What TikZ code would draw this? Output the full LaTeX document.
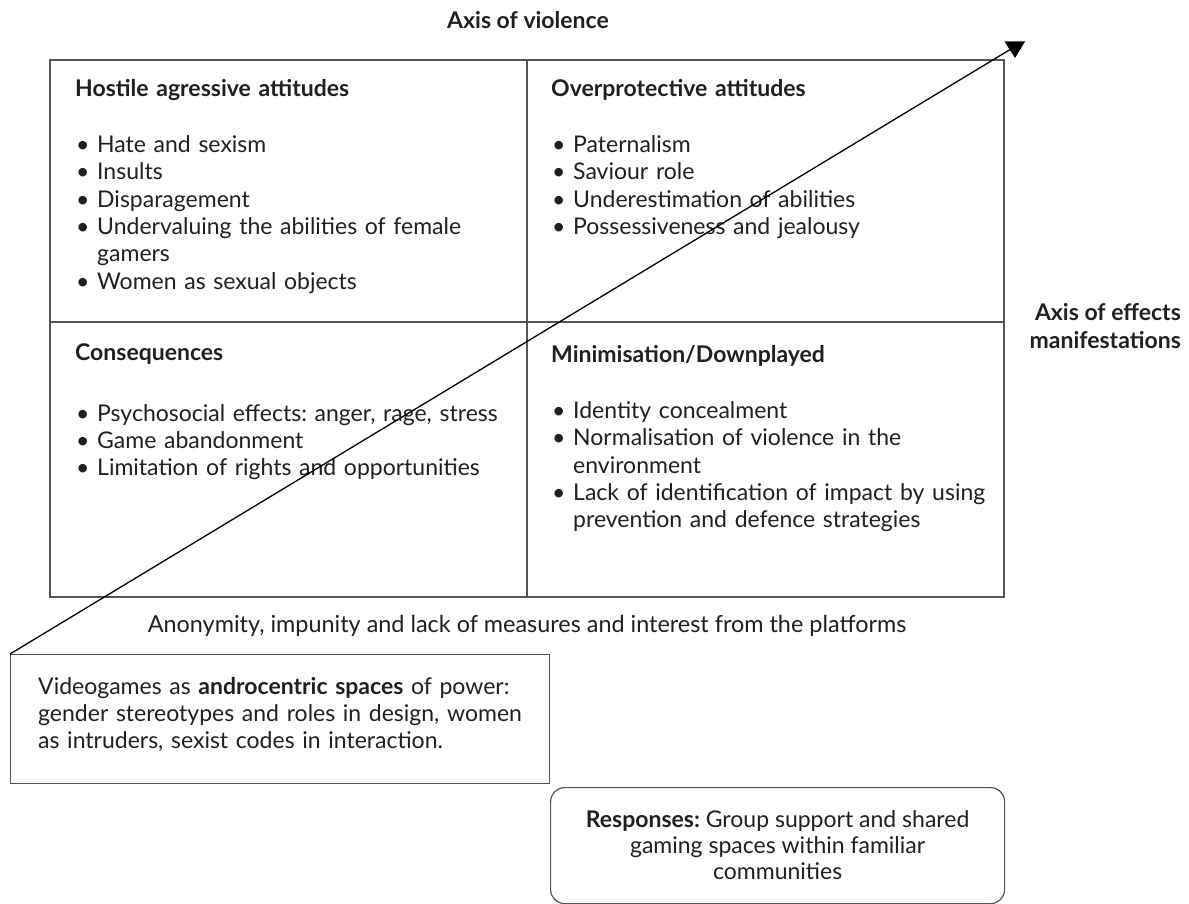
\documentclass[tikz,border=0pt]{standalone}
\usepackage{fontspec}
\setmainfont{Lato}
\usetikzlibrary{arrows.meta}
\hyphenpenalty=10000
\exhyphenpenalty=10000
\definecolor{txt}{HTML}{231F20}
\definecolor{grid}{HTML}{555555}
\newcommand\itm[1]{\noindent\hangindent=22pt\hangafter=1\makebox[22pt][l]{\hspace{1pt}\textbullet}#1\par}
\newcommand\hd[2][29pt]{\noindent\textbf{#2}\par\vspace{#1}}
\tikzset{
  cell/.style={anchor=north west,inner sep=0pt,text width=#1,align=left,font=\fontsize{23}{27.3}\selectfont\frenchspacing,text=txt},
  plain/.style={inner sep=0pt,font=\fontsize{23}{27}\selectfont\frenchspacing,text=txt},
  box/.style={draw=grid,line width=1.2pt},
}
\begin{document}
\begin{tikzpicture}[x=1pt,y=-1pt]
\useasboundingbox (0,0) rectangle (1189,904);
% grid
\draw[box] (50,60) rectangle (1004,597);
\draw[box] (527,60) -- (527,597);
\draw[box] (50,322) -- (1004,322);
% cells
\node[cell=430pt] (c1) at (75,79) {\hd{Hostile agressive attitudes}\itm{Hate and sexism}\itm{Insults}\itm{Disparagement}\itm{Undervaluing the abilities of female gamers}\itm{Women as sexual objects}};
\node[cell=440pt] (c2) at (551,79) {\hd{Overprotective attitudes}\itm{Paternalism}\itm{Saviour role}\itm{Underestimation of abilities}\itm{Possessiveness and jealousy}};
\node[cell=430pt] (c3) at (75,343) {\hd[34pt]{Consequences}\itm{Psychosocial effects: anger, rage, stress}\itm{Game abandonment}\itm{Limitation of rights and opportunities}};
\node[cell=452pt] (c4) at (551,345) {\hd{Minimisation/Downplayed}\itm{Identity concealment}\itm{Normalisation of violence in the environment}\itm{Lack of identification of impact by using prevention and defence strategies}};
% axis labels
\node[plain,font=\fontsize{23}{28}\selectfont\bfseries] (av) at (528,20) {Axis of violence};
\node[plain,font=\fontsize{23}{28}\selectfont\bfseries,align=right,anchor=east] (ae) at (1181,326) {Axis of effects\\manifestations};
\node[plain,font=\fontsize{23.4}{27}\selectfont\frenchspacing] (an) at (527,626) {Anonymity, impunity and lack of measures and interest from the platforms};
% videogames box
\node[box,anchor=north west,minimum width=539pt,minimum height=129pt,inner sep=0pt] (vg) at (10,654) {};
\node[cell=505pt,anchor=north west] (vgt) at (38,677) {Videogames as \textbf{androcentric spaces} of power: gender stereotypes and roles in design, women as intruders, sexist codes in interaction.};
% responses box
\node[box,rounded corners=14pt,anchor=north west,minimum width=454pt,minimum height=116pt,inner sep=0pt] (rs) at (550,787) {};
\node[plain,align=center,font=\fontsize{23}{26}\selectfont\frenchspacing] (rst) at (rs.center) {\textbf{Responses:} Group support and shared\\gaming spaces within familiar\\communities};
% arrow
\coordinate (tip) at (1011,49);
\draw[line width=1.3pt] (vg.north west) -- (tip);
\fill[black] (1004.5,41.5) -- (1025,41.5) -- (1015,58) -- cycle;
\end{tikzpicture}
\end{document}
